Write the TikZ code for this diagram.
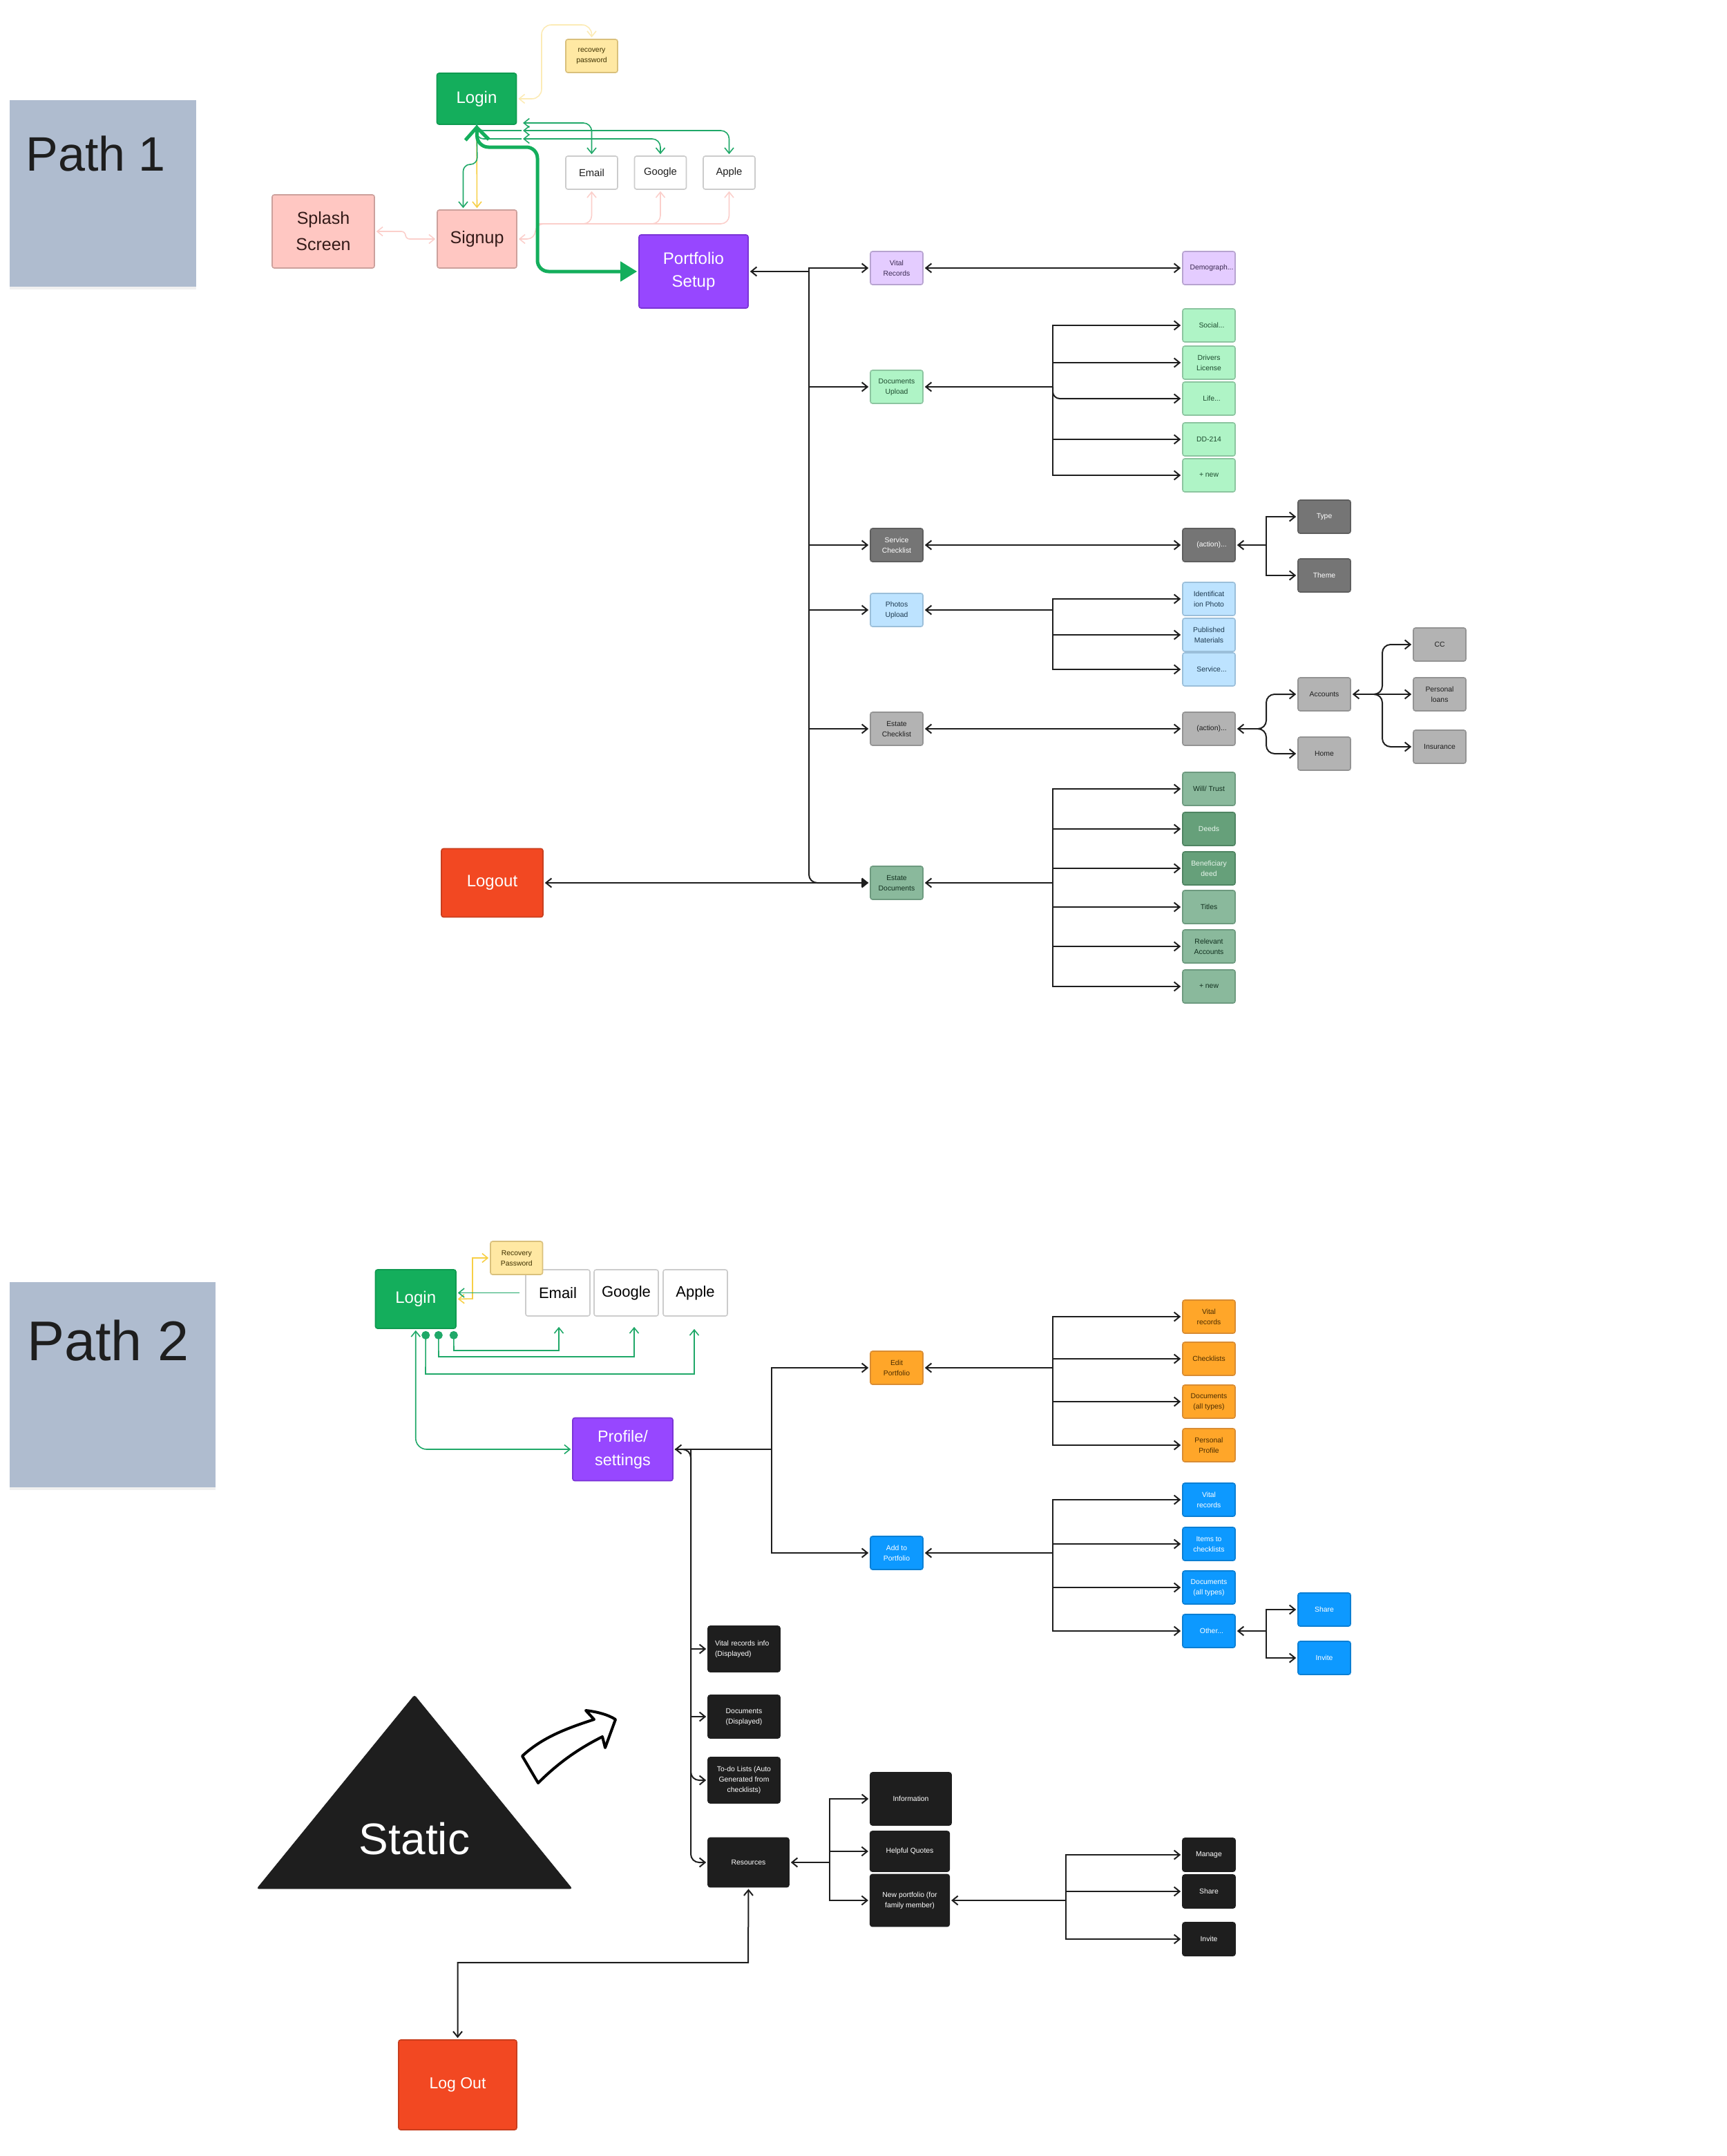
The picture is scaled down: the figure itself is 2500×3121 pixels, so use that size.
\documentclass[tikz,border=0pt]{standalone}
\usepackage{fontspec}
\setmainfont{Liberation Sans}
\usetikzlibrary{arrows.meta,shadows}
\definecolor{inkc}{HTML}{1E1E1E}
\definecolor{greenc}{HTML}{14AE5C}
\definecolor{linegreen}{HTML}{1FA868}
\definecolor{palepink}{HTML}{FBCFCB}
\definecolor{paleyellow}{HTML}{FCEBB6}
\definecolor{goldc}{HTML}{F7CF45}

\begin{document}
\begin{tikzpicture}[
    x=0.5pt, y=-0.5pt, % coordinates are reference pixels
    block/.style={rectangle, draw, line width=0.8pt, rounded corners=1.5pt, inner sep=0pt, align=center, font=\fontsize{5.2}{7.5}\selectfont},
    leaf/.style={block, minimum width=38pt, minimum height=24pt},
    bigfont/.style={font=\fontsize{12}{17}\selectfont},
    lilac/.style={fill=lilacf, draw=lilacd, text=lilact},
    mint/.style={fill=mintf, draw=mintd, text=mintt},
    slate/.style={fill=slatef, draw=slated, text=white},
    sky/.style={fill=skyf, draw=skyd, text=skyt},
    silver/.style={fill=silverf, draw=silverd, text=inkc},
    sage/.style={fill=sagef, draw=saged, text=saget},
    fern/.style={fill=fernf, draw=fernd, text=ferntext},
    amber/.style={fill=amberf, draw=amberd, text=ambert},
    azure/.style={fill=azuref, draw=azured, text=white},
    ink/.style={fill=inkc, draw=inkc, text=white},
    rose/.style={fill=rosef, draw=rosed, text=roset},
    cream/.style={fill=creamf, draw=creamd, text=creamt},
    plain/.style={fill=white, draw=plaind, text=inkc},
    emerald/.style={fill=greenc, draw=emeraldd, text=white},
    violet/.style={fill=violetf, draw=violetd, text=white},
    flame/.style={fill=flamef, draw=flamed, text=white},
    pathbox/.style={rectangle, fill=pathf, inner sep=0pt, drop shadow={opacity=0.12, shadow xshift=0pt, shadow yshift=-2pt}},
    arrow/.style={draw=inkc, line width=1pt, -{Straight Barb[length=4pt,width=6.5pt]}, shorten >=1pt},
    backarrow/.style={draw=inkc, line width=1pt, {Straight Barb[length=4pt,width=6.5pt]}-, shorten <=1pt},
    botharrow/.style={arrow, {Straight Barb[length=4pt,width=6.5pt]}-{Straight Barb[length=4pt,width=6.5pt]}, shorten <=1pt},
    colorline/.style={line width=0.8pt, {Straight Barb[length=4pt,width=6.5pt]}-{Straight Barb[length=4pt,width=6.5pt]}, shorten <=1pt, shorten >=1pt}
]
    \definecolor{lilacf}{HTML}{E4CCFF}\definecolor{lilacd}{HTML}{B7A3D0}\definecolor{lilact}{HTML}{3A2A50}
    \definecolor{mintf}{HTML}{AFF4C6}\definecolor{mintd}{HTML}{8CC5A0}\definecolor{mintt}{HTML}{1D4A2E}
    \definecolor{slatef}{HTML}{757575}\definecolor{slated}{HTML}{5E5E5E}
    \definecolor{skyf}{HTML}{BDE3FF}\definecolor{skyd}{HTML}{9BBFDA}\definecolor{skyt}{HTML}{1E3A50}
    \definecolor{silverf}{HTML}{B3B3B3}\definecolor{silverd}{HTML}{939393}
    \definecolor{sagef}{HTML}{8AB99C}\definecolor{saged}{HTML}{6D9A7F}\definecolor{saget}{HTML}{12301F}
    \definecolor{fernf}{HTML}{66A07A}\definecolor{fernd}{HTML}{4F8462}\definecolor{ferntext}{HTML}{E8F6EC}
    \definecolor{amberf}{HTML}{FFA629}\definecolor{amberd}{HTML}{D98C32}\definecolor{ambert}{HTML}{4A2C00}
    \definecolor{azuref}{HTML}{0D99FF}\definecolor{azured}{HTML}{0B7FD4}
    \definecolor{rosef}{HTML}{FFC7C2}\definecolor{rosed}{HTML}{CCA09C}\definecolor{roset}{HTML}{331A18}
    \definecolor{creamf}{HTML}{FFE8A3}\definecolor{creamd}{HTML}{D9C07C}\definecolor{creamt}{HTML}{3D3000}
    \definecolor{plaind}{HTML}{CCCCCC}
    \definecolor{emeraldd}{HTML}{0F9A50}
    \definecolor{violetf}{HTML}{9747FF}\definecolor{violetd}{HTML}{7A33D6}
    \definecolor{flamef}{HTML}{F24822}\definecolor{flamed}{HTML}{C83E1E}
    \definecolor{pathf}{HTML}{AFBCCF}

    \useasboundingbox (0,0) rectangle (2500,3121);

    % Path 1 nodes
    \node (pathone) [pathbox, minimum width=135pt, minimum height=135pt] at (149,280) {};
    \node (pathonetext) [anchor=base west, inner sep=0pt, text=inkc, font=\fontsize{35}{40}\selectfont] at (37,247) {Path 1};
    \node (recovery) [block, cream, minimum width=37.5pt, minimum height=24pt] at (856.5,81) {recovery\\password};
    \node (login) [block, emerald, bigfont, minimum width=57.5pt, minimum height=37pt] at (690,143) {Login};
    \node (email) [block, plain, font=\fontsize{7.4}{9}\selectfont, minimum width=37.5pt, minimum height=24pt] at (856.5,250) {Email};
    \node (google) [block, plain, font=\fontsize{7.4}{9}\selectfont, minimum width=37.5pt, minimum height=24pt] at (956,250) {Google};
    \node (apple) [block, plain, font=\fontsize{7.4}{9}\selectfont, minimum width=37.5pt, minimum height=24pt] at (1055.5,250) {Apple};
    \node (splash) [block, rose, font=\fontsize{12.5}{19}\selectfont, minimum width=74pt, minimum height=53pt] at (468,335) {Splash\\Screen};
    \node (signup) [block, rose, font=\fontsize{12.5}{19}\selectfont, minimum width=57.5pt, minimum height=42pt] at (690.5,346) {Signup};
    \node (setup) [block, violet, font=\fontsize{12}{16.5}\selectfont, minimum width=79pt, minimum height=53pt] at (1004,393) {Portfolio\\Setup};
    \node (logout) [block, flame, bigfont, minimum width=73.5pt, minimum height=49.5pt] at (712.5,1278) {Logout};

    \node (vital) [leaf, lilac] at (1298,388) {Vital\\Records};
    \node (demo) [leaf, lilac] at (1750,388) {\hspace*{4pt}Demograph...};
    \node (docup) [leaf, mint] at (1298,560) {Documents\\Upload};
    \node (social) [leaf, mint] at (1750,471) {\hspace*{4pt}Social...};
    \node (drivers) [leaf, mint] at (1750,525) {Drivers\\License};
    \node (life) [leaf, mint] at (1750,577) {\hspace*{4pt}Life...};
    \node (ddform) [leaf, mint] at (1750,636) {DD-214};
    \node (docnew) [leaf, mint] at (1750,688) {+ new};
    \node (service) [leaf, slate] at (1298,789) {Service\\Checklist};
    \node (actionone) [leaf, slate] at (1750,789) {\hspace*{4pt}(action)...};
    \node (type) [leaf, slate] at (1917,748) {Type};
    \node (theme) [leaf, slate] at (1917,833) {Theme};
    \node (photos) [leaf, sky] at (1298,883) {Photos\\Upload};
    \node (ident) [leaf, sky] at (1750,867) {Identificat\\ion Photo};
    \node (published) [leaf, sky] at (1750,919) {Published\\Materials};
    \node (serviceph) [leaf, sky] at (1750,969) {\hspace*{4pt}Service...};
    \node (estatecheck) [leaf, silver] at (1298,1055) {Estate\\Checklist};
    \node (actiontwo) [leaf, silver] at (1750,1055) {\hspace*{4pt}(action)...};
    \node (accounts) [leaf, silver] at (1917,1005) {Accounts};
    \node (home) [leaf, silver] at (1917,1091) {Home};
    \node (cc) [leaf, silver] at (2084,933) {CC};
    \node (loans) [leaf, silver] at (2084,1005) {Personal\\loans};
    \node (insurance) [leaf, silver] at (2084,1081) {Insurance};
    \node (estatedoc) [leaf, sage] at (1298,1278) {Estate\\Documents};
    \node (will) [leaf, sage] at (1750,1142) {Will/ Trust};
    \node (deeds) [leaf, fern] at (1750,1200) {Deeds};
    \node (benef) [leaf, fern] at (1750,1257) {Beneficiary\\deed};
    \node (titles) [leaf, sage] at (1750,1313) {Titles};
    \node (relevant) [leaf, sage] at (1750,1370) {Relevant\\Accounts};
    \node (estnew) [leaf, sage] at (1750,1428) {+ new};

    % Path 1 forks
    \coordinate (setupfork) at (1171,393);
    \coordinate (docfork) at (1524,560);
    \coordinate (actiononefork) at (1833,789);
    \coordinate (photofork) at (1524,883);
    \coordinate (actiontwofork) at (1822,1055);
    \coordinate (actiontwobend) at (1833,1055);
    \coordinate (accountfork) at (1990,1005);
    \coordinate (accountbend) at (2001,1005);
    \coordinate (estatefork) at (1524,1278);
    \coordinate (pinkbus) at (775,324);
    \coordinate (emailtail) at (755,178);
    \coordinate (appletail) at (755,189);
    \coordinate (googletail) at (755,201);

    % Path 1 colored connections
    \draw [colorline, draw=paleyellow, rounded corners=7pt] (login.east) -- (784,143) -- (784,36) -| (recovery.north);
    \draw [colorline, draw=palepink, rounded corners=3pt] (splash.east) -- (587,335) -- (587,346) -- (signup.west);
    \draw [colorline, draw=palepink, rounded corners=6pt] (signup.east) -| (pinkbus) -| (apple.south);
    \draw [colorline, -{Straight Barb[length=4pt,width=6.5pt]}, draw=palepink, rounded corners=6pt] (pinkbus) -| (email.south);
    \draw [colorline, -{Straight Barb[length=4pt,width=6.5pt]}, draw=palepink, rounded corners=6pt] (pinkbus) -| (google.south);
    \draw [colorline, -{Straight Barb[length=4pt,width=6.5pt]}, draw=goldc] (login.south) -- (signup.north);
    \draw [colorline, draw=linegreen, rounded corners=5pt] (login.south) -- (691,238) -| ([xshift=-10pt]signup.north);
    \draw [colorline, draw=linegreen, rounded corners=6pt] (emailtail) -| (email.north);
    \draw [colorline, draw=linegreen, rounded corners=6pt] (appletail) -| (apple.north);
    \draw [colorline, draw=linegreen, rounded corners=6pt] (googletail) -| (google.north);
    \draw [line width=0.8pt, draw=linegreen, rounded corners=5pt] (login.south) |- (appletail);
    \draw [line width=0.8pt, draw=linegreen, rounded corners=5pt] (login.south) |- (googletail);
    \draw [draw=greenc, line width=2.5pt, rounded corners=8pt, {Straight Barb[length=9pt,width=17pt]}-{Triangle[length=12pt,width=14pt]}, shorten >=1pt] (login.south) -- (691,213) -- (778,213) |- (setup.west);

    % Path 1 connections
    \path [backarrow] (setup.east) -- (setupfork);
    \path [arrow] (setupfork) |- (vital.west);
    \path [arrow] (setupfork) |- (docup.west);
    \path [arrow] (setupfork) |- (service.west);
    \path [arrow] (setupfork) |- (photos.west);
    \path [arrow] (setupfork) |- (estatecheck.west);
    \path [arrow, rounded corners=6pt] (setupfork) |- (estatedoc.west);
    \path [draw=inkc, line width=1pt, {Straight Barb[length=4pt,width=6.5pt]}-{Triangle[length=5pt,width=6pt]}, shorten <=1pt, shorten >=1pt] (logout.east) -- (estatedoc.west);
    \path [botharrow] (vital.east) -- (demo.west);

    \path [backarrow] (docup.east) -- (docfork);
    \path [arrow] (docfork) |- (social.west);
    \path [arrow] (docfork) |- (drivers.west);
    \path [arrow, rounded corners=5pt] (docfork) |- (life.west);
    \path [arrow] (docfork) |- (ddform.west);
    \path [arrow] (docfork) |- (docnew.west);

    \path [botharrow] (service.east) -- (actionone.west);
    \path [backarrow] (actionone.east) -- (actiononefork);
    \path [arrow] (actiononefork) |- (type.west);
    \path [arrow] (actiononefork) |- (theme.west);

    \path [backarrow] (photos.east) -- (photofork);
    \path [arrow] (photofork) |- (ident.west);
    \path [arrow] (photofork) |- (published.west);
    \path [arrow] (photofork) |- (serviceph.west);

    \path [botharrow] (estatecheck.east) -- (actiontwo.west);
    \path [backarrow] (actiontwo.east) -- (actiontwofork);
    \path [arrow, rounded corners=6pt] (actiontwofork) -- (actiontwobend) |- (accounts.west);
    \path [arrow, rounded corners=6pt] (actiontwofork) -- (actiontwobend) |- (home.west);
    \path [backarrow] (accounts.east) -- (accountfork);
    \path [arrow] (accountfork) -- (loans.west);
    \path [arrow, rounded corners=6pt] (accountfork) -- (accountbend) |- (cc.west);
    \path [arrow, rounded corners=6pt] (accountfork) -- (accountbend) |- (insurance.west);

    \path [backarrow] (estatedoc.east) -- (estatefork);
    \path [arrow] (estatefork) |- (will.west);
    \path [arrow] (estatefork) |- (deeds.west);
    \path [arrow] (estatefork) |- (benef.west);
    \path [arrow] (estatefork) |- (titles.west);
    \path [arrow] (estatefork) |- (relevant.west);
    \path [arrow] (estatefork) |- (estnew.west);

    % Path 2 nodes
    \node (pathtwo) [pathbox, minimum width=149pt, minimum height=148.5pt] at (163,2004.5) {};
    \node (pathtwotext) [anchor=base west, inner sep=0pt, text=inkc, font=\fontsize{40.5}{44}\selectfont] at (39,1969) {Path 2};
    \node (logintwo) [block, emerald, bigfont, minimum width=58.25pt, minimum height=42.5pt] at (601.75,1880.5) {Login};
    \node (emailtwo) [block, plain, font=\fontsize{11}{14}\selectfont, text=black, minimum width=46.5pt, minimum height=33.5pt] at (807.5,1871.5) {Email};
    \node (googletwo) [block, plain, font=\fontsize{11}{14}\selectfont, text=black, minimum width=46.5pt, minimum height=33.5pt] at (906.5,1871.5) {Google};
    \node (appletwo) [block, plain, font=\fontsize{11}{14}\selectfont, text=black, minimum width=46.5pt, minimum height=33.5pt] at (1006.5,1871.5) {Apple};
    \node (recoverytwo) [block, cream, minimum width=37.75pt, minimum height=24pt] at (747.75,1821) {Recovery\\Password};
    \node (profile) [block, violet, font=\fontsize{11.7}{17}\selectfont, minimum width=72.5pt, minimum height=45.5pt] at (901.5,2098) {Profile/\\settings};
    \node (logouttwo) [block, flame, font=\fontsize{11.5}{15}\selectfont, minimum width=85.5pt, minimum height=65pt] at (662.5,3018) {Log Out};

    \node (edit) [leaf, amber] at (1298,1980) {Edit\\Portfolio};
    \node (addto) [leaf, azure] at (1298,2248) {Add to\\Portfolio};
    \node (editvital) [leaf, amber] at (1750,1906) {Vital\\records};
    \node (editcheck) [leaf, amber] at (1750,1967) {Checklists};
    \node (editdocs) [leaf, amber] at (1750,2029) {Documents\\(all types)};
    \node (editprofile) [leaf, amber] at (1750,2092) {Personal\\Profile};
    \node (addvital) [leaf, azure] at (1750,2171) {Vital\\records};
    \node (additems) [leaf, azure] at (1750,2235) {Items to\\checklists};
    \node (adddocs) [leaf, azure] at (1750,2298) {Documents\\(all types)};
    \node (addother) [leaf, azure] at (1750,2361) {\hspace*{4pt}Other...};
    \node (othershare) [leaf, azure] at (1917,2330) {Share};
    \node (otherinvite) [leaf, azure] at (1917,2400) {Invite};

    \node (vitalinfo) [block, ink, minimum width=52pt, minimum height=33pt, text width=42pt, align=left] at (1077,2387) {Vital  records info\\(Displayed)};
    \node (docsinfo) [block, ink, minimum width=52pt, minimum height=31pt] at (1077,2485) {Documents\\(Displayed)};
    \node (todo) [block, ink, minimum width=52pt, minimum height=33pt] at (1077,2577) {To-do Lists (Auto\\Generated from\\checklists)};
    \node (resources) [block, ink, minimum width=58.5pt, minimum height=35.5pt] at (1083.5,2696) {Resources};
    \node (information) [block, ink, minimum width=58.5pt, minimum height=38pt] at (1318.5,2604) {Information};
    \node (quotes) [block, ink, minimum width=57.25pt, minimum height=29pt] at (1317,2680) {Helpful Quotes};
    \node (newport) [block, ink, minimum width=57.25pt, minimum height=37.5pt] at (1317,2751) {New portfolio (for\\family member)};
    \node (manage) [leaf, ink] at (1750,2685) {Manage};
    \node (shareit) [leaf, ink] at (1750,2738) {Share};
    \node (inviteit) [leaf, ink] at (1750,2807) {Invite};

    % Static marker
    \draw [fill=inkc, draw=inkc, rounded corners=1.5pt] (600,2454) -- (828,2734) -- (372,2734) -- cycle;
    \node (static) [anchor=base, inner sep=0pt, text=white, font=\fontsize{32}{34}\selectfont] at (600,2684) {Static};
    \draw [draw=black, fill=white, line width=2pt, line join=round] (756,2542) -- (779,2581) .. controls (810,2550) and (840,2530) .. (872,2514) -- (876,2530) -- (891,2489) .. controls (880,2482) and (865,2478) .. (848,2476) -- (860,2489) .. controls (820,2502) and (785,2515) .. (756,2542) -- cycle;

    % Path 2 forks
    \coordinate (profilefork) at (1117,2098);
    \coordinate (sidefork) at (1000,2098);
    \coordinate (editfork) at (1524,1980);
    \coordinate (addfork) at (1524,2248);
    \coordinate (otherfork) at (1832.5,2361);
    \coordinate (resourcefork) at (1200.5,2696);
    \coordinate (newportfork) at (1543,2751);

    % Path 2 colored connections
    \draw [colorline, draw=goldc] (logintwo.east) -- (684,1880) |- (recoverytwo.west);
    \draw [line width=0.8pt, draw=linegreen, -{Straight Barb[length=4pt,width=6.5pt]}, shorten >=1pt] ([xshift=-4pt]emailtwo.west) -- ([yshift=4.5pt]logintwo.east);
    \draw [line width=0.8pt, draw=linegreen, {Circle[length=6pt]}-{Straight Barb[length=4pt,width=6.5pt]}] ([xshift=27.5pt,yshift=-1.5pt]logintwo.south) -- (657,1955) -| ([xshift=0.75pt,yshift=-7.5pt]emailtwo.south);
    \draw [line width=0.8pt, draw=linegreen, {Circle[length=6pt]}-{Straight Barb[length=4pt,width=6.5pt]}] ([xshift=16.5pt,yshift=-1.5pt]logintwo.south) -- (635,1964) -| ([xshift=5.75pt,yshift=-7.5pt]googletwo.south);
    \draw [line width=0.8pt, draw=linegreen, {Circle[length=6pt]}-{Straight Barb[length=4pt,width=6.5pt]}] ([xshift=7.25pt,yshift=-1.5pt]logintwo.south) -- (616,1989) -| ([xshift=-0.75pt,yshift=-9pt]appletwo.south);
    \draw [colorline, draw=linegreen, rounded corners=8pt] (logintwo.south) |- (profile.west);

    % Path 2 connections
    \path [backarrow] (profile.east) -- (profilefork);
    \path [arrow] (profilefork) |- (edit.west);
    \path [arrow] (profilefork) |- (addto.west);
    \path [arrow, rounded corners=6pt] ([xshift=1pt]profile.east) -- (sidefork) |- (resources.west);
    \path [arrow] (sidefork) |- (vitalinfo.west);
    \path [arrow] (sidefork) |- (docsinfo.west);
    \path [arrow, rounded corners=6pt] (sidefork) |- (todo.west);

    \path [backarrow] (edit.east) -- (editfork);
    \path [arrow] (editfork) |- (editvital.west);
    \path [arrow] (editfork) |- (editcheck.west);
    \path [arrow] (editfork) |- (editdocs.west);
    \path [arrow] (editfork) |- (editprofile.west);

    \path [backarrow] (addto.east) -- (addfork);
    \path [arrow] (addfork) |- (addvital.west);
    \path [arrow] (addfork) |- (additems.west);
    \path [arrow] (addfork) |- (adddocs.west);
    \path [arrow] (addfork) |- (addother.west);

    \path [backarrow] (addother.east) -- (otherfork);
    \path [arrow] (otherfork) |- (othershare.west);
    \path [arrow] (otherfork) |- (otherinvite.west);

    \path [backarrow] (resources.east) -- (resourcefork);
    \path [arrow] (resourcefork) |- (information.west);
    \path [arrow] (resourcefork) |- (quotes.west);
    \path [arrow] (resourcefork) |- (newport.west);

    \path [backarrow] (newport.east) -- (newportfork);
    \path [arrow] (newportfork) |- (manage.west);
    \path [arrow] (newportfork) |- (shareit.west);
    \path [arrow] (newportfork) |- (inviteit.west);

    \path [botharrow] (resources.south) -- (1083,2841) -| (logouttwo.north);

\end{tikzpicture}
\end{document}
